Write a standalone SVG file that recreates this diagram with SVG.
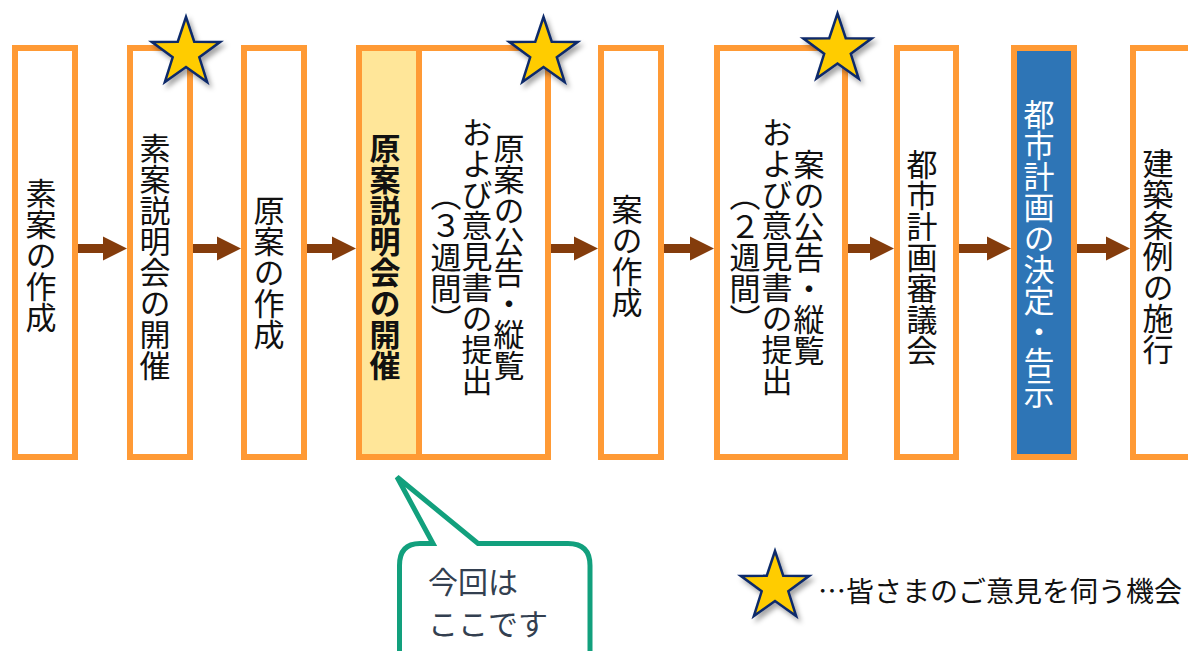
<svg xmlns="http://www.w3.org/2000/svg" width="1188" height="651" viewBox="0 0 1188 651">
<style>
.box{fill:#FFFFFF;stroke:#FF9A35;stroke-width:6}
.vt{font-family:"Noto Sans CJK JP","Noto Sans CJK SC",sans-serif;font-size:31px;fill:#111111;writing-mode:vertical-rl;text-anchor:middle}
.arrow{fill:#843C0C}
.star{fill:#FFCC00;stroke:#0D2A6B;stroke-width:2.5;stroke-linejoin:miter}
.ht{font-family:"Noto Sans CJK JP","Noto Sans CJK SC",sans-serif}
</style>
<defs>
<path id="starShape" d="M0,-36 L8.23,-11.33 L34.24,-11.12 L13.31,4.33 L21.16,29.12 L0,14 L-21.16,29.12 L-13.31,4.33 L-34.24,-11.12 L-8.23,-11.33 Z"/>
<filter id="sh" x="-30%" y="-30%" width="170%" height="170%">
<feDropShadow dx="3" dy="4" stdDeviation="2.5" flood-color="#000000" flood-opacity="0.35"/>
</filter>
</defs>
<g id="connectors">
<polygon class="arrow" points="78,244 103,244 103,236.5 127,248.5 103,260.5 103,253 78,253"/>
<polygon class="arrow" points="193,244 217,244 217,236.5 241,248.5 217,260.5 217,253 193,253"/>
<polygon class="arrow" points="307,244 332,244 332,236.5 356,248.5 332,260.5 332,253 307,253"/>
<polygon class="arrow" points="551,244 574,244 574,236.5 598,248.5 574,260.5 574,253 551,253"/>
<polygon class="arrow" points="664,244 690,244 690,236.5 714,248.5 690,260.5 690,253 664,253"/>
<polygon class="arrow" points="848,244 870,244 870,236.5 894,248.5 870,260.5 870,253 848,253"/>
<polygon class="arrow" points="959,244 987,244 987,236.5 1011,248.5 987,260.5 987,253 959,253"/>
<polygon class="arrow" points="1077,244 1106,244 1106,236.5 1130,248.5 1106,260.5 1106,253 1077,253"/>
</g>
<g id="n1">
<rect class="box" x="15" y="48" width="60" height="409"/>
<text class="vt" x="41" y="255">素案の作成</text>
</g>
<g id="n2">
<rect class="box" x="130" y="48" width="60" height="409"/>
<text class="vt" x="155" y="257">素案説明会の開催</text>
</g>
<g id="n3">
<rect class="box" x="244" y="48" width="60" height="409"/>
<text class="vt" x="269" y="272">原案の作成</text>
</g>
<g id="n5">
<rect class="box" x="419" y="48" width="129" height="409"/>
<text class="vt" x="509" y="257">原案の公告・縦覧</text>
<text class="vt" x="477" y="256">および意見書の提出</text>
<text class="vt" x="446" y="257">（３週間）</text>
</g>
<g id="n4">
<rect class="box" x="359" y="48" width="60" height="409" style="fill:#FFE699"/>
<text class="vt" x="385" y="257" font-weight="bold">原案説明会の開催</text>
</g>
<g id="n6">
<rect class="box" x="601" y="48" width="60" height="409"/>
<text class="vt" x="627" y="256">案の作成</text>
</g>
<g id="n7">
<rect class="box" x="717" y="48" width="128" height="409"/>
<text class="vt" x="809" y="257">案の公告・縦覧</text>
<text class="vt" x="777" y="256">および意見書の提出</text>
<text class="vt" x="745" y="257">（２週間）</text>
</g>
<g id="n8">
<rect class="box" x="897" y="48" width="59" height="409"/>
<text class="vt" x="922" y="257">都市計画審議会</text>
</g>
<g id="n9">
<rect class="box" x="1014" y="48" width="60" height="409" style="fill:#2E75B6"/>
<text class="vt" x="1039" y="254" style="fill:#FFFFFF">都市計画の決定・告示</text>
</g>
<g id="n10">
<rect class="box" x="1133" y="48" width="60" height="409"/>
<text class="vt" x="1158" y="256">建築条例の施行</text>
</g>
<g id="stars">
<use href="#starShape" class="star" filter="url(#sh)" transform="translate(186,53)"/>
<use href="#starShape" class="star" filter="url(#sh)" transform="translate(543.5,53)"/>
<use href="#starShape" class="star" filter="url(#sh)" transform="translate(837.5,49.5)"/>
</g>
<g id="callout">
<path d="M420,543.5 L433,543.5 L397,477 L478,543.5 L568,543.5 Q590,543.5 590,565.5 L590,690 L399.5,690 L399.5,565.5 Q399.5,543.5 420,543.5 Z" fill="#FFFFFF" stroke="#12A07D" stroke-width="5" stroke-linejoin="miter"/>
<text class="ht" x="428" y="593" font-size="30" fill="#333F50">今回は</text>
<text class="ht" x="428" y="635" font-size="30" fill="#333F50">ここです</text>
</g>
<g id="legend">
<use href="#starShape" class="star" filter="url(#sh)" transform="translate(775,587)"/>
<text class="ht" x="818" y="602" font-size="28" fill="#111111">…皆さまのご意見を伺う機会</text>
</g>
</svg>
